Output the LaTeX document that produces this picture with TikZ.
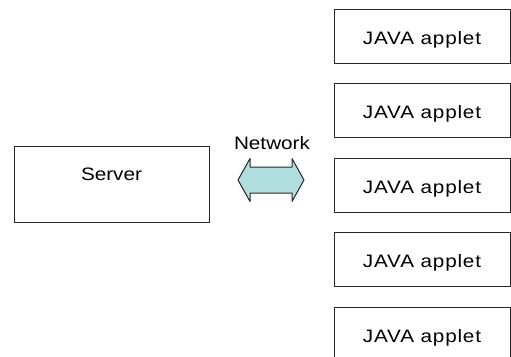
\documentclass[tikz,border=0pt]{standalone}
\usepackage{fontspec}
\setmainfont{Liberation Sans}[FakeStretch=1.15]
\usetikzlibrary{positioning}

\definecolor{netcyan}{RGB}{176,222,222}
\tikzset{
    box/.style={draw=black!85, line width=1pt, inner sep=0pt},
    appletbox/.style={box, minimum width=176pt, minimum height=54pt,
        text height=16pt, text depth=0pt},
}
\newcommand{\applettext}{{\addfontfeature{LetterSpace=4.5}JAVA applet}}

\begin{document}
\begin{tikzpicture}[x=1pt, y=-1pt, font=\fontsize{18}{21}\selectfont,
        node distance=19.5pt]
        \clip (0,0) rectangle (511,356);

        \node[box, minimum width=195pt, minimum height=76pt]
            (server) at (111.5,184) {\raisebox{4pt}[0pt][0pt]{Server}};

        \coordinate (link) at (271,180);
        \draw[draw=black!85, line width=1pt, fill=netcyan, line join=round]
            (link) ++(-33,0)
            -- ++(12,-21.5) -- ++(0,8.5)
            -- ++(42,0) -- ++(0,-8.5)
            -- ++(12,21.5) -- ++(-12,21.5)
            -- ++(0,-8.5) -- ++(-42,0)
            -- ++(0,8.5) -- cycle;
        \node[inner sep=0pt] (net) at (272,143) {Network};

        \node[appletbox] (applet1) at (422,36) {\applettext};
        \node[appletbox, below=of applet1] (applet2) {\applettext};
        \node[appletbox, below=of applet2] (applet3) {\applettext};
        \node[appletbox, below=of applet3] (applet4) {\applettext};
        \node[appletbox, below=of applet4] (applet5) {\applettext};

    \end{tikzpicture}
\end{document}
